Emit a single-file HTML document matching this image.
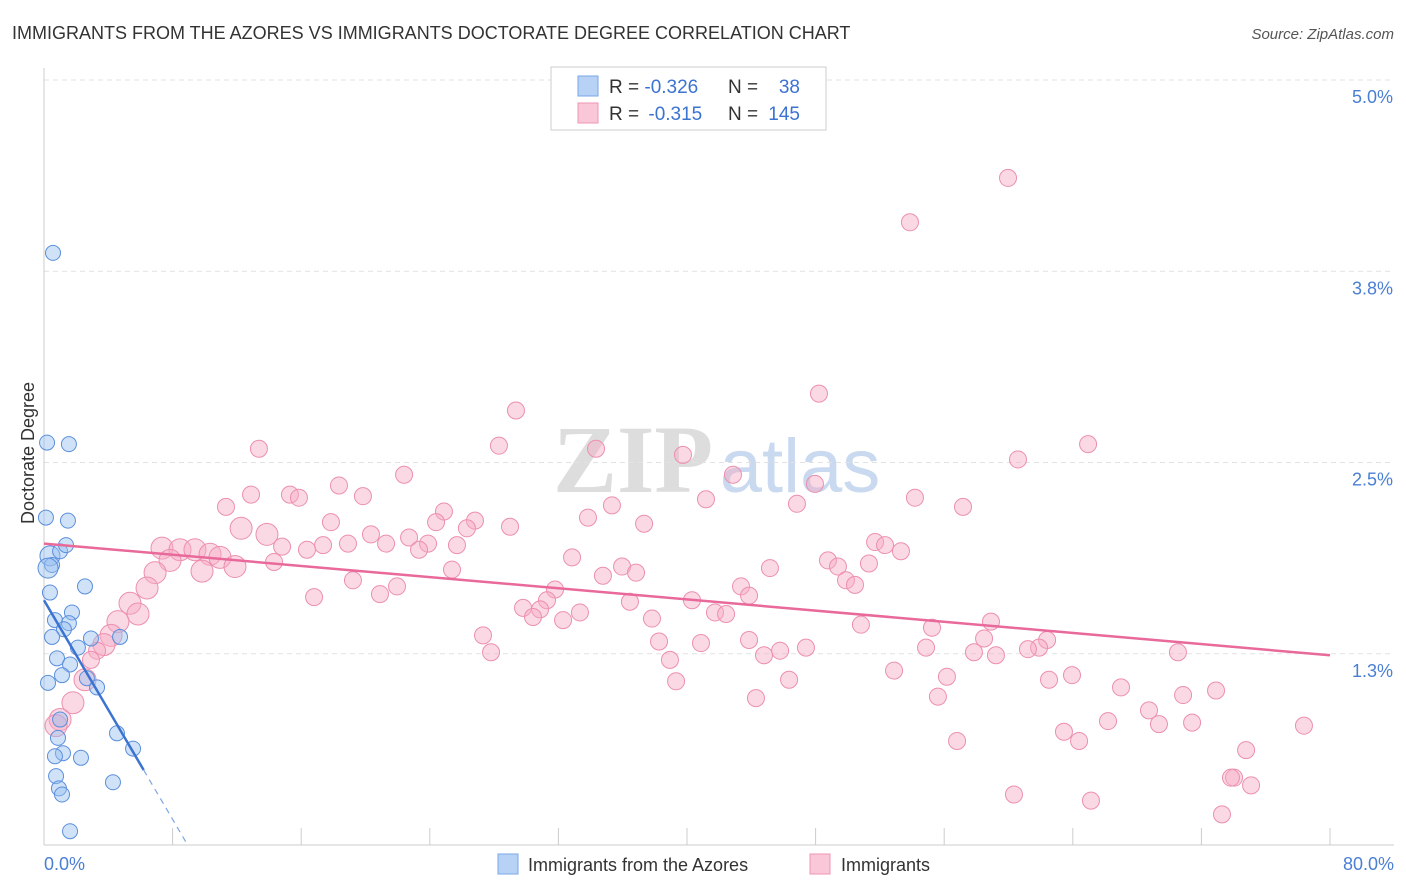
<!DOCTYPE html>
<html><head><meta charset="utf-8"><style>
body{margin:0;background:#fff;font-family:"Liberation Sans",sans-serif;}
svg{display:block}
</style></head><body>
<svg id="chart" width="1406" height="892">
<text x="12" y="39" font-size="18" fill="#333">IMMIGRANTS FROM THE AZORES VS IMMIGRANTS DOCTORATE DEGREE CORRELATION CHART</text>
<text x="1394" y="39" font-size="15" fill="#555" font-style="italic" text-anchor="end">Source: ZipAtlas.com</text>
<g>
<text x="633" y="492" font-size="96" font-family="Liberation Serif,serif" fill="#ddd" text-anchor="middle" font-weight="bold">ZIP</text>
<text x="800" y="492" font-size="76" fill="#c9d9ef" text-anchor="middle">atlas</text>
</g>
<g id="grid"></g>
<g id="axes"></g>
<g id="points"></g>
<g id="lines"></g>
<text x="36" y="455" font-size="18" fill="#333" text-anchor="middle" transform="rotate(-90 34 455)">Doctorate Degree</text>
<text x="44" y="870" font-size="18" fill="#4a7fd4">0.0%</text>
<text x="1394" y="870" font-size="18" fill="#4a7fd4" text-anchor="end">80.0%</text>
<g>
<rect x="551" y="67" width="275" height="63" fill="#fff" stroke="#ccc"/>
<rect x="578" y="76" width="20" height="20" fill="#b8d2f5" stroke="#7aa6e6"/>
<rect x="578" y="103" width="20" height="20" fill="#f9c7d7" stroke="#ee95b3"/>
<text x="609" y="93" font-size="19" fill="#333">R = <tspan fill="#3b73d1">-0.326</tspan></text>
<text x="728" y="93" font-size="19" fill="#333">N = </text><text x="800" y="93" font-size="19" fill="#3b73d1" text-anchor="end">38</text>
<text x="609" y="120" font-size="19" fill="#333">R = <tspan fill="#3b73d1" dx="4">-0.315</tspan></text>
<text x="728" y="120" font-size="19" fill="#333">N = </text><text x="800" y="120" font-size="19" fill="#3b73d1" text-anchor="end">145</text>
</g>
<g>
<rect x="498" y="854" width="20" height="20" fill="#b8d2f5" stroke="#7aa6e6"/>
<text x="528" y="871" font-size="18" fill="#333">Immigrants from the Azores</text>
<rect x="810" y="854" width="20" height="20" fill="#f9c7d7" stroke="#ee95b3"/>
<text x="841" y="871" font-size="18" fill="#333">Immigrants</text>
</g>
</svg>
<script>
const yTicks=[5.0,3.75,2.5,1.25];
const yTickLabels=["5.0%","3.8%","2.5%","1.3%"];
const xTicks=[0,8,16,24,32,40,48,56,64,72,80];
const blueX=[0.56,0.19,1.55,0.12,1.49,0.37,1.0,1.37,0.5,0.25,2.55,0.37,1.74,0.68,1.55,1.24,0.5,2.92,4.73,2.11,0.81,1.62,0.25,1.12,2.67,3.3,1.0,0.87,4.54,5.54,1.18,0.68,2.3,0.75,0.93,1.12,4.29,1.62];
const blueY=[3.87,2.63,2.62,2.14,2.12,1.89,1.92,1.96,1.83,1.81,1.69,1.65,1.52,1.47,1.45,1.41,1.36,1.35,1.36,1.29,1.22,1.18,1.06,1.11,1.09,1.03,0.82,0.70,0.73,0.63,0.60,0.58,0.57,0.45,0.37,0.33,0.41,0.09];
const pinkX=[59.97,53.87,48.21,29.36,13.37,28.30,64.95,34.34,39.75,60.59,42.86,22.40,47.96,12.88,18.35,15.30,15.86,19.84,41.18,54.18,11.32,24.88,35.33,46.84,57.17,17.85,24.39,26.81,33.84,37.33,28.99,12.26,13.87,20.34,26.31,22.71,18.91,17.36,21.28,14.81,16.36,23.89,25.69,23.33,51.70,52.32,53.31,7.34,8.46,9.39,10.33,7.84,10.95,14.31,11.88,9.83,32.85,48.77,35.96,49.39,51.32,45.16,6.91,25.38,34.77,36.83,19.22,49.89,43.36,21.96,50.45,31.79,16.80,20.90,43.86,6.41,40.31,29.80,31.29,30.86,36.45,5.35,5.85,4.60,33.34,30.42,41.74,42.43,32.29,37.82,50.82,55.24,58.91,62.40,58.48,4.17,3.73,27.31,38.26,40.87,43.86,54.87,61.90,61.21,57.85,3.30,47.40,45.79,44.79,59.22,27.81,70.54,2.92,38.94,52.88,56.17,63.95,46.35,39.32,62.52,67.00,72.91,2.55,70.86,55.61,44.29,1.80,68.74,66.19,71.42,69.36,78.38,1.00,0.75,63.45,64.39,56.80,74.78,74.03,73.84,75.09,60.34,65.13,73.28];
const pinkY=[4.36,4.07,2.95,2.84,2.59,2.61,2.62,2.59,2.55,2.52,2.42,2.42,2.36,2.29,2.35,2.29,2.27,2.28,2.26,2.27,2.21,2.18,2.22,2.23,2.21,2.11,2.11,2.12,2.14,2.10,2.08,2.07,2.03,2.03,2.07,2.01,1.97,1.96,1.97,1.95,1.93,1.97,1.96,1.93,1.98,1.96,1.92,1.94,1.93,1.93,1.90,1.86,1.88,1.85,1.82,1.79,1.88,1.86,1.82,1.82,1.84,1.81,1.78,1.80,1.76,1.78,1.73,1.73,1.69,1.69,1.70,1.67,1.62,1.64,1.63,1.68,1.60,1.55,1.60,1.54,1.59,1.58,1.51,1.46,1.52,1.49,1.52,1.51,1.47,1.48,1.44,1.42,1.46,1.34,1.35,1.37,1.31,1.37,1.33,1.32,1.34,1.29,1.29,1.28,1.26,1.27,1.29,1.27,1.24,1.24,1.26,1.26,1.21,1.21,1.14,1.10,1.11,1.08,1.07,1.08,1.03,1.01,1.08,0.98,0.97,0.96,0.93,0.88,0.81,0.80,0.79,0.78,0.82,0.78,0.74,0.68,0.68,0.62,0.44,0.44,0.39,0.33,0.29,0.20];
const pinkTrend=[1.97,1.24];
const blueTrend=[1.6,0.49,6.2];

const X=v=>44+v*16.075, Y=v=>845-v*153;
const NS="http://www.w3.org/2000/svg";
function mk(tag,attrs,parent){const e=document.createElementNS(NS,tag);for(const k in attrs)e.setAttribute(k,attrs[k]);document.getElementById(parent).appendChild(e);return e;}
yTicks.forEach((t,i)=>{
  const g=mk('line',{x1:44,x2:1394,y1:Y(t),y2:Y(t),stroke:'#e2e2e2','stroke-dasharray':'5,4'},'grid');
  
  
  const l=mk('text',{x:1393,y:Y(t)+23,'font-size':18,fill:'#4a7fd4','text-anchor':'end'},'grid');
  l.textContent=yTickLabels[i];
  
  
});
const ax=mk('line',{x1:44,x2:44,y1:68,y2:845,stroke:'#ccc'},'axes');


const bx=mk('line',{x1:44,x2:1394,y1:845,y2:845,stroke:'#ccc'},'axes');


xTicks.forEach(t=>{
  const tk=mk('line',{x1:X(t),x2:X(t),y1:828,y2:845,stroke:'#ccc'},'axes');
  
  
});
pinkX.forEach((x,i)=>{
  const y=pinkY[i];
  const big=(x<14&&y>1.3&&y<2.1)||(x<4&&y<1.1);
  const c=mk('circle',{cx:X(x),cy:Y(y),r:big?11:8.5,fill:'rgba(246,170,196,0.45)',stroke:'#ec8fb0','stroke-width':1},'points');
  
  
});
blueX.forEach((x,i)=>{
  const c=mk('circle',{cx:X(x),cy:Y(blueY[i]),r:(x<0.5&&blueY[i]>1.7&&blueY[i]<1.9)?10:7.5,fill:'rgba(150,190,240,0.45)',stroke:'#5b8fdc','stroke-width':1},'points');
  
  
});
const pl=mk('line',{x1:X(0),y1:Y(pinkTrend[0]),x2:X(80),y2:Y(pinkTrend[1]),stroke:'#e8699a','stroke-width':2.5},'lines');


const slope=(blueTrend[1]-blueTrend[0])/blueTrend[2];
const bl=mk('line',{x1:X(0),y1:Y(blueTrend[0]),x2:X(blueTrend[2]),y2:Y(blueTrend[1]),stroke:'#3b73d1','stroke-width':2.5},'lines');


const xz=-blueTrend[0]/slope;
const bd=mk('line',{x1:X(blueTrend[2]),y1:Y(blueTrend[1]),x2:X(xz),y2:Y(0),stroke:'#7aa6e6','stroke-width':1.2,'stroke-dasharray':'6,5'},'lines');


</script>
</body></html>
